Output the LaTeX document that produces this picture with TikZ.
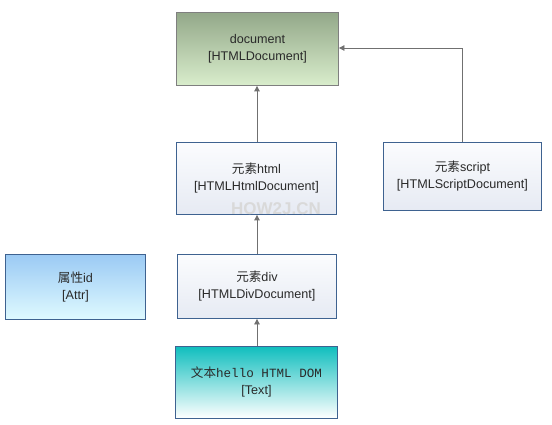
\documentclass[tikz,border=0pt]{standalone}
\usepackage{fontspec}
\setmainfont{Liberation Sans}
\newfontfamily\cjk{Noto Sans CJK SC}
\newfontfamily\monof{Liberation Mono}
\usetikzlibrary{arrows.meta}
\definecolor{bordgray}{HTML}{7F7F7F}
\definecolor{bordblue}{HTML}{3E6290}
\definecolor{txt}{HTML}{2A2A2A}
\definecolor{docTop}{HTML}{93A889}
\definecolor{docBot}{HTML}{D9EDCC}
\definecolor{elTop}{HTML}{FBFCFE}
\definecolor{elBot}{HTML}{E6EAF3}
\definecolor{attTop}{HTML}{9BCAF4}
\definecolor{attBot}{HTML}{DFFAFF}
\definecolor{txTop}{HTML}{10BEBE}
\definecolor{txBot}{HTML}{FFFFFF}
\definecolor{linec}{HTML}{707070}
\tikzset{
  box/.style={draw=bordblue, line width=0.9pt, text=txt, align=center,
    font=\fontsize{12.6}{17}\selectfont, inner sep=0pt, anchor=north west},
  elbox/.style={box, top color=elTop, bottom color=elBot},
  conn/.style={draw=linec, line width=0.8pt, -{Triangle[length=5.5pt,width=5.5pt]}},
}
\begin{document}
\begin{tikzpicture}[x=1pt,y=-1pt]
\useasboundingbox (0,0) rectangle (552,425);
\node[box, draw=bordgray, top color=docTop, bottom color=docBot, minimum width=162pt, minimum height=73pt] (doc) at (176,12) {document\\{[}HTMLDocument{]}};
\node[elbox, minimum width=160pt, minimum height=72pt] (html) at (176,142) {{\cjk 元素}html\\{[}HTMLHtmlDocument{]}};
\node[elbox, minimum width=158pt, minimum height=68pt] (script) at (383,142) {{\cjk 元素}script\\{[}HTMLScriptDocument{]}};
\node[box, top color=attTop, bottom color=attBot, minimum width=140pt, minimum height=65pt] (attr) at (5,254) {{\cjk 属性}id\\{[}Attr{]}};
\node[elbox, minimum width=159pt, minimum height=64pt] (div) at (177,254) {{\cjk 元素}div\\{[}HTMLDivDocument{]}};
\node[box, top color=txTop, bottom color=txBot, minimum width=162pt, minimum height=72pt] (text) at (175,346) {{\cjk 文本}{\monof hello HTML DOM}\\{[}Text{]}};
\node[text=black!15, font=\bfseries\fontsize{17}{17}\selectfont, anchor=center] (wm) at (276,209) {HOW2J.CN};
\draw[conn] (html.north -| 257,0) -- (doc.south -| 257,0);
\draw[conn] (div.north -| 257,0) -- (html.south -| 257,0);
\draw[conn] (text.north -| 257,0) -- (div.south -| 257,0);
\coordinate (bend) at (script.north |- 0,48);
\draw[conn] (script.north) -- (bend) -- (doc.east |- bend);
\end{tikzpicture}
\end{document}
